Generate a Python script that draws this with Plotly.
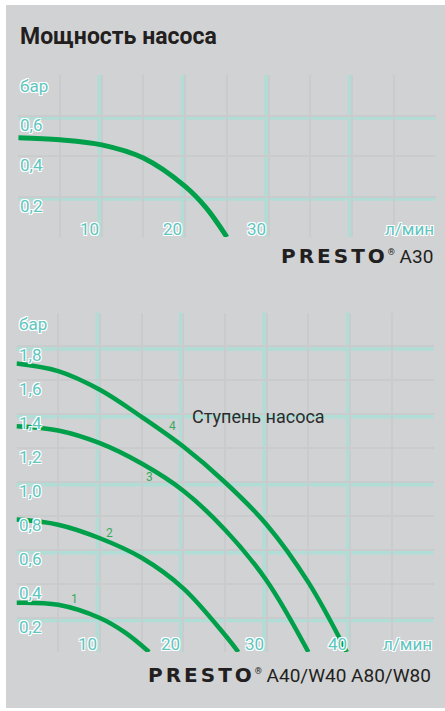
import plotly.graph_objects as go

# --- data ---
flow_a30 = [0, 5, 10, 15, 20, 22.5, 25]
head_a30 = [0.49, 0.48, 0.455, 0.39, 0.25, 0.145, 0]

stage_names = ["1", "2", "3", "4"]
flow_st1 = [0, 5, 10, 13, 15.9]
head_st1 = [0.29, 0.278, 0.20, 0.115, 0]
flow_st2 = [0, 5, 10, 15, 20, 25, 26.6]
head_st2 = [0.78, 0.75, 0.67, 0.555, 0.375, 0.10, 0]
flow_st3 = [0, 5, 10, 15, 20, 25, 30, 35]
head_st3 = [1.33, 1.305, 1.23, 1.11, 0.95, 0.72, 0.42, 0]
flow_st4 = [0, 5, 10, 15, 20, 25, 30, 35, 39.6]
head_st4 = [1.70, 1.655, 1.545, 1.385, 1.21, 1.00, 0.75, 0.41, 0]
stage_lbl_x = [6.9, 11.1, 16.0, 18.7]
stage_lbl_y = [0.311, 0.704, 1.03, 1.333]

x_ticks = [10, 20, 30, 40]
y_ticks_a30 = [0.2, 0.4, 0.6]
y_ticks_a40 = [0.2, 0.4, 0.6, 0.8, 1.0, 1.2, 1.4, 1.6, 1.8]
band_y_a30 = [0.2, 0.6]
band_y_a40 = [0.2, 0.6, 1.0, 1.4, 1.8]

W, H = 445, 711
GRAY = "#d1d2d4"
PLOT_BG = "#d9eee9"
TEAL_BAND = "#b0ddd5"
GRID = "#c9cbcd"
GREEN = "#00a04b"
LABEL = "#5ec6bf"
DARK = "#231f20"
OUTLINE = "-1px -1px 0 #fff, 1px -1px 0 #fff, -1px 1px 0 #fff, 1px 1px 0 #fff, 0 1px 0 #fff, 0 -1px 0 #fff"


def px_x(p):
    return p / W


def px_y(p):
    return 1 - p / H


# plot boxes in pixels (left, right, top, bottom) and axis ranges
box1 = (18.25, 435.5, 75, 237)
box2 = (16.5, 433.5, 312.5, 652)
xr, yr1, yr2 = 50, 0.8, 2.0

fig = go.Figure()

fig.add_trace(go.Scatter(x=flow_a30, y=head_a30, mode="lines", line=dict(color=GREEN, width=5, shape="spline"),
                         xaxis="x", yaxis="y", hoverinfo="skip", showlegend=False))
for fx, fy in [(flow_st1, head_st1), (flow_st2, head_st2), (flow_st3, head_st3), (flow_st4, head_st4)]:
    fig.add_trace(go.Scatter(x=fx, y=fy, mode="lines", line=dict(color=GREEN, width=4.5, shape="spline"),
                             xaxis="x2", yaxis="y2", hoverinfo="skip", showlegend=False))

axis_common = dict(showgrid=True, gridcolor=GRID, gridwidth=2, zeroline=False, showticklabels=False,
                   ticks="", showline=False, fixedrange=True)

fig.update_layout(
    width=W, height=H,
    margin=dict(l=0, r=0, t=0, b=0),
    paper_bgcolor="white",
    plot_bgcolor=PLOT_BG,
    xaxis=dict(domain=[px_x(box1[0]), px_x(box1[1])], range=[0, xr], dtick=5, anchor="y", **axis_common),
    yaxis=dict(domain=[px_y(box1[3]), px_y(box1[2])], range=[0, yr1], dtick=0.2, anchor="x", **axis_common),
    xaxis2=dict(domain=[px_x(box2[0]), px_x(box2[1])], range=[0, xr], dtick=5, anchor="y2", **axis_common),
    yaxis2=dict(domain=[px_y(box2[3]), px_y(box2[2])], range=[0, yr2], dtick=0.2, anchor="x2", **axis_common),
)

shapes = [dict(type="rect", xref="paper", yref="paper", x0=px_x(6), x1=1, y0=px_y(708), y1=px_y(5),
               fillcolor=GRAY, line_width=0, layer="below")]
# teal bands sitting just left of / below every second grid line
for xa, ya, bands, box, yr in [("x", "y", band_y_a30, box1, yr1), ("x2", "y2", band_y_a40, box2, yr2)]:
    dx = 2.5 / ((box[1] - box[0]) / xr)
    dy = 2.5 / ((box[3] - box[2]) / yr)
    for v in x_ticks:
        shapes.append(dict(type="line", xref=xa, yref=ya + " domain", x0=v - dx, x1=v - dx, y0=0, y1=1,
                           line=dict(color=TEAL_BAND, width=3.5), layer="below"))
    for v in bands:
        shapes.append(dict(type="line", xref=xa + " domain", yref=ya, x0=0, x1=1, y0=v - dy, y1=v - dy,
                           line=dict(color=TEAL_BAND, width=3.5), layer="below"))
fig.update_layout(shapes=shapes)

lab_font = dict(family="Roboto", size=17, color=LABEL, shadow=OUTLINE)
ann = []
ann.append(dict(text="<b>Мощность насоса</b>", xref="paper", yref="paper", x=px_x(18), y=px_y(37),
                xanchor="left", yanchor="middle", showarrow=False,
                font=dict(family="Roboto", size=23, color=DARK)))

for xa, ya, yt, ymax in [("x", "y", y_ticks_a30, yr1), ("x2", "y2", y_ticks_a40, yr2)]:
    for v in yt:
        ann.append(dict(text=f"{v:.1f}".replace(".", ","), xref=xa, yref=ya, x=0, y=v, xanchor="left",
                        yanchor="top", yshift=3, showarrow=False, font=lab_font))
    ann.append(dict(text="бар", xref=xa, yref=ya, x=0, y=ymax, xanchor="left", yanchor="top", yshift=1,
                    showarrow=False, font=lab_font))
    ticks = x_ticks[:3] if xa == "x" else x_ticks
    for v in ticks:
        ann.append(dict(text=str(v), xref=xa, yref=ya, x=v, y=0, xanchor="right", yanchor="bottom",
                        xshift=-1, yshift=-4, showarrow=False, font=lab_font))
    ann.append(dict(text="л/мин", xref=xa, yref=ya, x=xr, y=0, xanchor="right", yanchor="bottom",
                    xshift=0, yshift=-4, showarrow=False, font=lab_font))

for name, lx, ly in zip(stage_names, stage_lbl_x, stage_lbl_y):
    ann.append(dict(text=name, xref="x2", yref="y2", x=lx, y=ly, showarrow=False,
                    font=dict(family="Roboto", size=12, color="#3aaa5e")))

ann.append(dict(text="Ступень насоса", xref="x2", yref="y2", x=20.8, y=1.39, xanchor="left",
                yanchor="middle", showarrow=False, font=dict(family="Roboto", size=18, color="#2b2b2b")))

logo = ('<span style="font-family:DejaVu Sans;font-weight:bold;font-size:20px;letter-spacing:3px">PRESTO</span>'
        '<sup><span style="font-size:9px">®</span></sup> ')
ann.append(dict(text=logo + "A30", xref="paper", yref="paper", x=px_x(435), y=px_y(256),
                xanchor="right", yanchor="middle", showarrow=False,
                font=dict(family="Roboto", size=19, color=DARK)))
ann.append(dict(text=logo + "A40/W40 A80/W80", xref="paper", yref="paper", x=px_x(433), y=px_y(675),
                xanchor="right", yanchor="middle", showarrow=False,
                font=dict(family="Roboto", size=19, color=DARK)))

fig.update_layout(annotations=ann)

fig.write_html("out.html", config={"displayModeBar": False},
               post_script="document.body.style.margin='0';")
